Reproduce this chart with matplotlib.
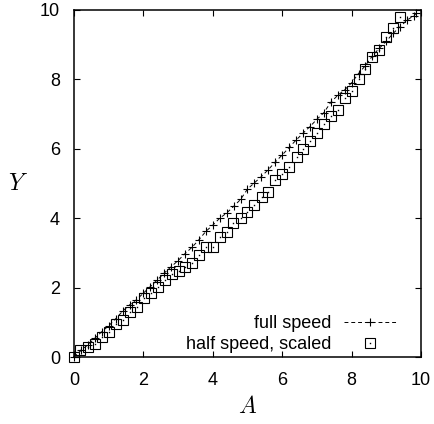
import matplotlib
matplotlib.use('Agg')
import matplotlib.pyplot as plt

plt.rcParams['font.family'] = ['Liberation Sans', 'DejaVu Sans']
plt.rcParams['mathtext.fontset'] = 'cm'

# full speed run
full_a = [0.0, 0.2, 0.4, 0.6, 0.8, 1.0, 1.2, 1.4, 1.6, 1.8,
          2.0, 2.2, 2.4, 2.6, 2.8, 3.0, 3.2, 3.4, 3.6, 3.8,
          4.0, 4.2, 4.4, 4.6, 4.8, 5.0, 5.2, 5.4, 5.6, 5.8,
          6.0, 6.2, 6.4, 6.6, 6.8, 7.0, 7.2, 7.4, 7.6, 7.8,
          8.0, 8.2, 8.4, 8.6, 8.8, 9.0, 9.2, 9.4, 9.6, 9.8, 9.86]
full_y = [0.0, 0.19, 0.35, 0.54, 0.73, 0.90, 1.10, 1.32, 1.50, 1.65,
          1.84, 2.03, 2.22, 2.42, 2.60, 2.78, 2.98, 3.16, 3.38, 3.62,
          3.80, 4.00, 4.15, 4.34, 4.54, 4.84, 5.02, 5.20, 5.40, 5.62,
          5.82, 6.04, 6.25, 6.45, 6.64, 6.85, 7.04, 7.34, 7.54, 7.70,
          7.90, 8.17, 8.40, 8.68, 8.90, 9.10, 9.33, 9.52, 9.71, 9.84, 9.90]

# half speed run, scaled
half_a = [0.0, 0.17, 0.41, 0.6, 0.82, 1.0, 1.21, 1.42, 1.61, 1.82,
          2.02, 2.21, 2.41, 2.62, 2.82, 3.02, 3.2, 3.4, 3.6, 3.8,
          4.0, 4.21, 4.4, 4.59, 4.8, 5.0, 5.19, 5.41, 5.6, 5.79,
          6.0, 6.2, 6.42, 6.61, 6.8, 7.01, 7.2, 7.4, 7.62, 7.81,
          8.0, 8.2, 8.4, 8.6, 8.79, 9.0, 9.2, 9.4]
half_y = [0.0, 0.2, 0.3, 0.37, 0.59, 0.73, 0.95, 1.07, 1.31, 1.45,
          1.69, 1.83, 2.03, 2.22, 2.39, 2.48, 2.6, 2.72, 2.94, 3.16,
          3.16, 3.45, 3.61, 3.87, 4.0, 4.19, 4.38, 4.62, 4.76, 5.1,
          5.26, 5.47, 5.77, 5.98, 6.22, 6.45, 6.71, 6.95, 7.12, 7.47,
          7.67, 8.01, 8.3, 8.65, 8.85, 9.23, 9.49, 9.81]

ticks = [0, 2, 4, 6, 8, 10]

fig = plt.figure(figsize=(4.35, 4.24), dpi=100)
ax = fig.add_axes([74 / 435, 1 - 357 / 424, 347 / 435, 347 / 424])

h_full, = ax.plot(full_a, full_y, color='black', lw=0.7, ls=(0, (4, 3)),
                  marker='+', ms=6, mew=0.8, clip_on=False)
h_sq, = ax.plot(half_a, half_y, ls='none', marker='s', ms=6.5,
                mfc='none', mec='black', mew=0.8, clip_on=False)
h_dot, = ax.plot(half_a, half_y, ls='none', marker='s', ms=1,
                 mfc='black', mec='none', clip_on=False)

ax.set_xlim(0, 10)
ax.set_ylim(0, 10)
ax.set_xticks(ticks)
ax.set_yticks(ticks)
ax.tick_params(direction='in', length=4, width=0.8, labelsize=13,
               top=True, right=True)
ax.tick_params(axis='x', pad=10.5)
ax.tick_params(axis='y', pad=10)
for s in ax.spines.values():
    s.set_linewidth(1.1)

ax.set_xlabel('$A$', fontsize=17, labelpad=5)
ax.set_ylabel('$Y$', fontsize=17, rotation=0, labelpad=16, va='center')

ax.legend([h_full, (h_sq, h_dot)], ['full speed', 'half speed, scaled'],
          loc='lower right', frameon=False, markerfirst=False,
          fontsize=13, handlelength=2.9, numpoints=1,
          borderaxespad=0, borderpad=0, handletextpad=0.7,
          labelspacing=0.2, bbox_to_anchor=(0.928, 0.012))

fig.savefig('out.png', dpi=100)
